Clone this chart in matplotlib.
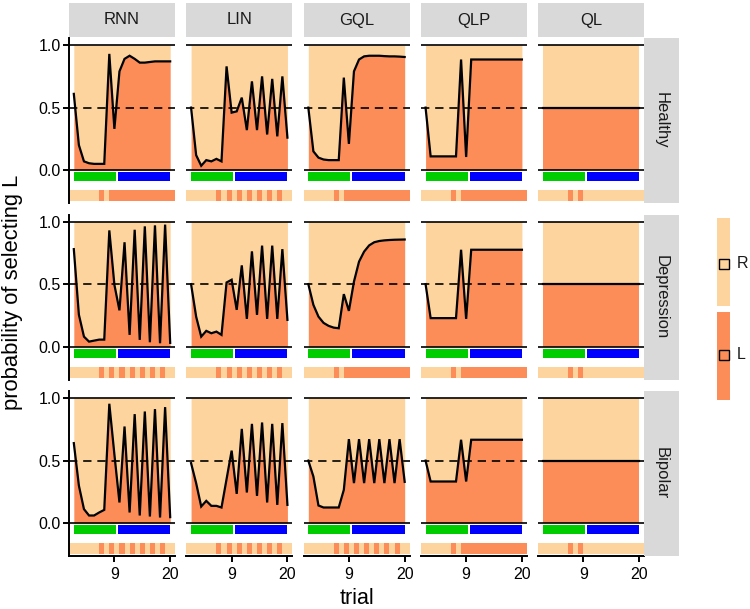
import numpy as np
import matplotlib
matplotlib.use("Agg")
import matplotlib.pyplot as plt

plt.rcParams['font.family'] = ['Liberation Sans', 'DejaVu Sans']

W, H = 750, 609

models = ['RNN', 'LIN', 'GQL', 'QLP', 'QL']
groups = ['Healthy', 'Depression', 'Bipolar']
trials = np.arange(1, 21)

# probability of selecting L for each trial
healthy_rnn = [0.61, 0.20, 0.07, 0.055, 0.05, 0.05, 0.05, 0.93, 0.33, 0.79,
               0.89, 0.915, 0.89, 0.86, 0.86, 0.865, 0.87, 0.87, 0.87, 0.87]
healthy_lin = [0.50, 0.12, 0.035, 0.08, 0.07, 0.09, 0.07, 0.83, 0.46, 0.47,
               0.58, 0.32, 0.71, 0.32, 0.75, 0.285, 0.73, 0.27, 0.75, 0.26]
healthy_gql = [0.50, 0.15, 0.10, 0.085, 0.08, 0.08, 0.08, 0.74, 0.21, 0.79,
               0.885, 0.91, 0.915, 0.915, 0.915, 0.912, 0.91, 0.91, 0.908, 0.905]
healthy_qlp = [0.50, 0.11, 0.11, 0.11, 0.11, 0.11, 0.11, 0.885, 0.105, 0.885,
               0.885, 0.885, 0.885, 0.885, 0.885, 0.885, 0.885, 0.885, 0.885, 0.885]
healthy_ql = [0.5] * 20

depression_rnn = [0.78, 0.255, 0.08, 0.04, 0.048, 0.056, 0.056, 0.93, 0.495, 0.29,
                  0.835, 0.094, 0.935, 0.054, 0.962, 0.035, 0.97, 0.027, 0.976, 0.03]
depression_lin = [0.50, 0.24, 0.08, 0.126, 0.107, 0.12, 0.094, 0.513, 0.535, 0.294,
                  0.65, 0.222, 0.762, 0.254, 0.808, 0.222, 0.808, 0.222, 0.78, 0.214]
depression_gql = [0.50, 0.334, 0.24, 0.19, 0.166, 0.152, 0.147, 0.42, 0.286, 0.52,
                  0.68, 0.76, 0.81, 0.835, 0.845, 0.85, 0.853, 0.855, 0.856, 0.857]
depression_qlp = [0.50, 0.228, 0.228, 0.228, 0.228, 0.228, 0.228, 0.775, 0.222, 0.775,
                  0.775, 0.775, 0.775, 0.775, 0.775, 0.775, 0.775, 0.775, 0.775, 0.775]
depression_ql = [0.5] * 20

bipolar_rnn = [0.64, 0.30, 0.112, 0.061, 0.061, 0.085, 0.106, 0.955, 0.55, 0.165,
               0.773, 0.085, 0.872, 0.061, 0.893, 0.053, 0.912, 0.045, 0.928, 0.048]
bipolar_lin = [0.48, 0.32, 0.133, 0.178, 0.138, 0.138, 0.125, 0.352, 0.58, 0.234,
               0.754, 0.245, 0.794, 0.218, 0.805, 0.165, 0.794, 0.146, 0.80, 0.146]
bipolar_gql = [0.50, 0.373, 0.141, 0.125, 0.125, 0.125, 0.125, 0.266, 0.672, 0.32,
               0.672, 0.32, 0.672, 0.32, 0.672, 0.32, 0.672, 0.32, 0.672, 0.33]
bipolar_qlp = [0.50, 0.333, 0.333, 0.333, 0.333, 0.333, 0.333, 0.667, 0.333, 0.667,
               0.667, 0.667, 0.667, 0.667, 0.667, 0.667, 0.667, 0.667, 0.667, 0.667]
bipolar_ql = [0.5] * 20

# actions (tile i spans [i, i+1])
actions_switch = "RRRRRRLRLLLLLLLLLLLLL"
actions_alt = "RRRRRRLRLRLRLRLRLRLRR"
actions_ql = "RRRRRRLRLRRRRRRRRRRRR"

probs = [[healthy_rnn, healthy_lin, healthy_gql, healthy_qlp, healthy_ql],
         [depression_rnn, depression_lin, depression_gql, depression_qlp, depression_ql],
         [bipolar_rnn, bipolar_lin, bipolar_gql, bipolar_qlp, bipolar_ql]]
actions = [[actions_switch, actions_alt, actions_switch, actions_switch, actions_ql],
           [actions_alt, actions_alt, actions_switch, actions_switch, actions_ql],
           [actions_alt, actions_alt, actions_alt, actions_switch, actions_ql]]

# reward phases
phase_start = [1, 9.7]
phase_end = [9.3, 20]
phase_colors = ['#00CD00', '#0000FF']

col_R = '#FDD49E'
col_L = '#FC8D59'
act_col = {'R': col_R, 'L': col_L}
strip_grey = '#D9D9D9'


def rect(left, top, w, h):
    return [left / W, 1 - (top + h) / H, w / W, h / H]


fig = plt.figure(figsize=(W / 100, H / 100), dpi=100)

col_left = [69 + i * 117.25 for i in range(5)]
row_top = [38, 214.5, 391]
pw, ph = 106, 165

for r, g in enumerate(groups):
    for c, m in enumerate(models):
        ax = fig.add_axes(rect(col_left[c], row_top[r], pw, ph))
        p = np.array(probs[r][c])
        ax.fill_between(trials, 0, p, color=col_L, lw=0)
        ax.fill_between(trials, p, 1, color=col_R, lw=0)
        ax.axhline(1, color='black', lw=1.2)
        ax.axhline(0, color='black', lw=1.2)
        ax.axhline(0.5, color='black', lw=1.2, dashes=(5, 3.5))
        ax.plot(trials, p, color='black', lw=1.6, solid_joinstyle='miter')
        # phase bar
        ax.bar(phase_start, 0.075, width=np.array(phase_end) - np.array(phase_start),
               bottom=-0.09, align='edge', color=phase_colors, lw=0)
        # action tiles
        acts = actions[r][c]
        ax.bar(np.arange(len(acts)), 0.088, width=1.0, bottom=-0.248, align='edge',
               color=[act_col[a] for a in acts], lw=0)
        ax.set_xlim(0.05, 20.95)
        ax.set_ylim(-0.263, 1.057)
        for s in ['top', 'right']:
            ax.spines[s].set_visible(False)
        ax.spines['left'].set_visible(c == 0)
        ax.spines['bottom'].set_visible(r == 2)
        for s in ['left', 'bottom']:
            ax.spines[s].set_linewidth(1.4)
        ax.set_xticks([9, 20])
        ax.set_yticks([0.0, 0.5, 1.0])
        ax.set_yticklabels(['0.0', '0.5', '1.0'])
        ax.tick_params(axis='both', labelsize=11.5, length=4, width=1.4,
                       colors='black', pad=2)
        ax.tick_params(axis='x', pad=4)
        if c != 0:
            ax.tick_params(axis='y', left=False, labelleft=False)
        if r != 2:
            ax.tick_params(axis='x', bottom=False, labelbottom=False)
        ax.set_facecolor('none')

        if r == 0:
            sx = fig.add_axes(rect(col_left[c], 3, pw, 34))
            sx.set_facecolor(strip_grey)
            sx.set_xticks([])
            sx.set_yticks([])
            for s in sx.spines.values():
                s.set_visible(False)
            sx.text(0.5, 0.5, m, ha='center', va='center', fontsize=12,
                    color='#1A1A1A', transform=sx.transAxes)
    sy = fig.add_axes(rect(644, row_top[r], 35, ph))
    sy.set_facecolor(strip_grey)
    sy.set_xticks([])
    sy.set_yticks([])
    for s in sy.spines.values():
        s.set_visible(False)
    sy.text(0.5, 0.5, g, ha='center', va='center', fontsize=12, rotation=-90,
            color='#1A1A1A', transform=sy.transAxes)

# axis titles
fig.text(13 / W, 1 - 292 / H, 'probability of selecting L', rotation=90,
         ha='center', va='center', fontsize=15.8)
fig.text(356.5 / W, 1 - 598 / H, 'trial', ha='center', va='center', fontsize=15.5)

# legend
legend_labels = ['R', 'L']
legend_colors = [col_R, col_L]
lg = fig.add_axes(rect(717, 218, 13, 182))
lg.bar([0, 0], [0.97, 0.97], bottom=[1.03, 0.0], width=1, align='edge',
       color=legend_colors, lw=0)
for i, (lab, colr) in enumerate(zip(legend_labels, legend_colors)):
    yc = 1.5 - i
    lg.plot([0.5], [yc], marker='s', ms=6.5, mfc=colr, mec='black', mew=1.0)
    lg.text(1.55, yc, lab, ha='left', va='center', fontsize=11.5, color='#1A1A1A')
lg.set_xlim(0, 1)
lg.set_ylim(0, 2)
lg.axis('off')

fig.savefig('out.png', dpi=100)
